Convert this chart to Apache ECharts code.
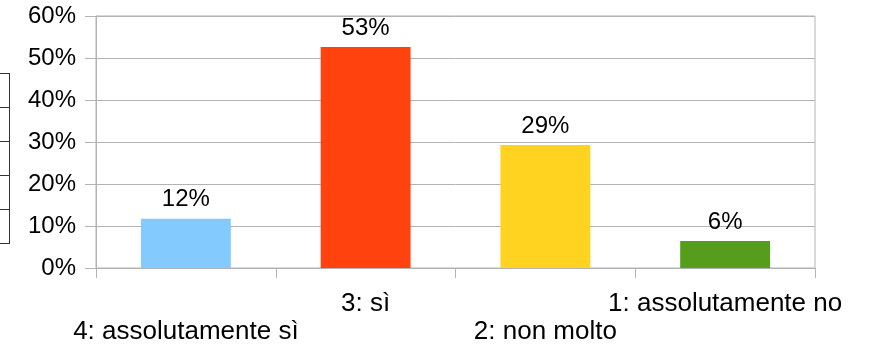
<!DOCTYPE html>
<html>
<head>
<meta charset="utf-8">
<script src="https://cdn.jsdelivr.net/npm/echarts@6/dist/echarts.min.js"></script>
<style>html,body{margin:0;padding:0;background:#fff;}#c{width:870px;height:350px;}</style>
</head>
<body>
<div id="c"></div>
<script>
var categories = ['4: assolutamente sì', '3: sì', '2: non molto', '1: assolutamente no'];
var values = [0.117, 0.526, 0.293, 0.064];
var colors = ['#83caff', '#ff420e', '#ffd320', '#579d1c'];
var yTicks = [0, 0.1, 0.2, 0.3, 0.4, 0.5, 0.6];

var chart = echarts.init(document.getElementById('c'), null, {renderer: 'canvas'});
var font = 'Liberation Sans';
var tableRows = [73, 107, 141, 175, 209, 243];
var graphics = [{type: 'line', shape: {x1: 9.5, y1: 73, x2: 9.5, y2: 243}, style: {stroke: '#333', lineWidth: 1}}];
tableRows.forEach(function (y) {
  graphics.push({type: 'line', shape: {x1: 0, y1: y + 0.5, x2: 10, y2: y + 0.5}, style: {stroke: '#333', lineWidth: 1}});
});
chart.setOption({
  animation: false,
  textStyle: {fontFamily: font},
  graphic: graphics,
  grid: {left: 96, right: 55, top: 16, bottom: 82, show: true, borderColor: '#b3b3b3', borderWidth: 1},
  xAxis: {
    type: 'category',
    data: categories,
    boundaryGap: true,
    axisLine: {lineStyle: {color: '#b3b3b3'}},
    axisTick: {show: true, length: 10, lineStyle: {color: '#b3b3b3'}},
    axisLabel: {
      interval: 0, margin: 22, color: '#000', fontSize: 26, fontFamily: font, lineHeight: 28,
      formatter: function (v, i) { return i % 2 === 0 ? '\n' + v : v; }
    }
  },
  yAxis: {
    type: 'value', min: yTicks[0], max: yTicks[yTicks.length - 1], interval: 0.1,
    axisLine: {show: true, lineStyle: {color: '#b3b3b3'}},
    axisTick: {show: true, length: 11, lineStyle: {color: '#b3b3b3'}},
    splitLine: {lineStyle: {color: '#b3b3b3'}},
    axisLabel: {
      margin: 20, color: '#000', fontSize: 24, fontFamily: font,
      formatter: function (v) { return Math.round(v * 100) + '%'; }
    }
  },
  series: [{
    type: 'bar',
    barWidth: '50%',
    data: values.map(function (v, i) { return {value: v, itemStyle: {color: colors[i]}}; }),
    label: {
      show: true, position: 'top', distance: 7, color: '#000', fontSize: 24, fontFamily: font,
      formatter: function (p) { return Math.round(p.value * 100) + '%'; }
    }
  }]
});
</script>
</body>
</html>
